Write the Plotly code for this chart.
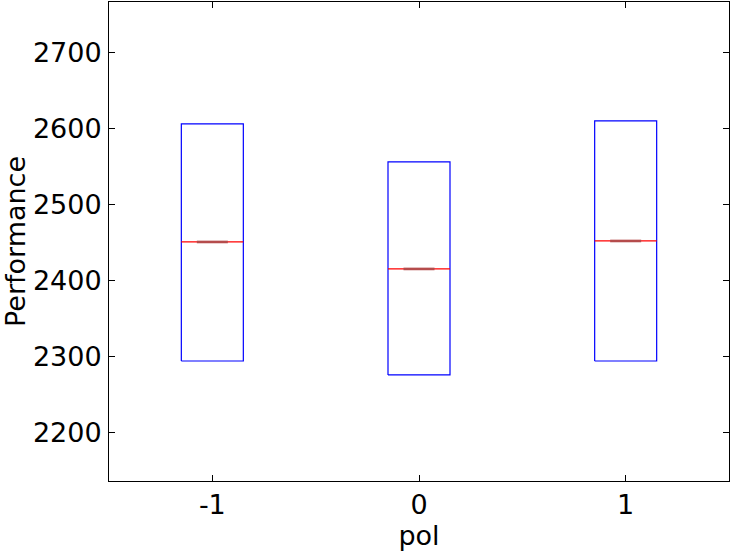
import plotly.graph_objects as go

categories = [-1, 0, 1]
tick_labels = ["-1", "0", "1"]
q1 = [2294.7, 2276.3, 2294.7]
median = [2451.3, 2415.8, 2452.6]
q3 = [2606.6, 2556.6, 2610.5]

box_half = 0.15
FONT = "DejaVu Sans"
FS = 27

fig = go.Figure()
for c, lo, md, hi in zip(categories, q1, median, q3):
    fig.add_trace(go.Scatter(
        x=[c - box_half, c + box_half, c + box_half, c - box_half, c - box_half],
        y=[lo, lo, hi, hi, lo],
        mode="lines", line=dict(color="#0000ff", width=1.2),
        showlegend=False, hoverinfo="skip"))
    fig.add_trace(go.Scatter(
        x=[c - box_half, c + box_half], y=[md, md],
        mode="lines", line=dict(color="#ff0000", width=1.2),
        showlegend=False, hoverinfo="skip"))
    fig.add_trace(go.Scatter(
        x=[c - box_half / 2, c + box_half / 2], y=[md, md],
        mode="lines", line=dict(color="#b54c4c", width=2.6),
        showlegend=False, hoverinfo="skip"))

axis_common = dict(
    showline=True, linecolor="black", linewidth=1, mirror="ticks",
    ticks="inside", ticklen=6, tickcolor="black", tickwidth=1,
    showgrid=False, zeroline=False, automargin=False,
    tickfont=dict(family=FONT, size=FS, color="black"),
)

fig.update_layout(
    width=731, height=552,
    margin=dict(l=109, r=2, t=2, b=71),
    paper_bgcolor="white", plot_bgcolor="white",
    font=dict(family=FONT, color="black"),
    xaxis=dict(range=[-1.5, 1.5], tickvals=categories, ticktext=tick_labels,
               title=dict(text="pol", font=dict(family=FONT, size=FS), standoff=0),
               **axis_common),
    yaxis=dict(range=[2136.8, 2767], tickvals=[2200, 2300, 2400, 2500, 2600, 2700],
               title=dict(text="Performance", font=dict(family=FONT, size=FS), standoff=8),
               ticklabelstandoff=1,
               **axis_common),
)

fig.write_html("out.html", config={"displayModeBar": False},
               post_script="document.body.style.margin='0px';")
